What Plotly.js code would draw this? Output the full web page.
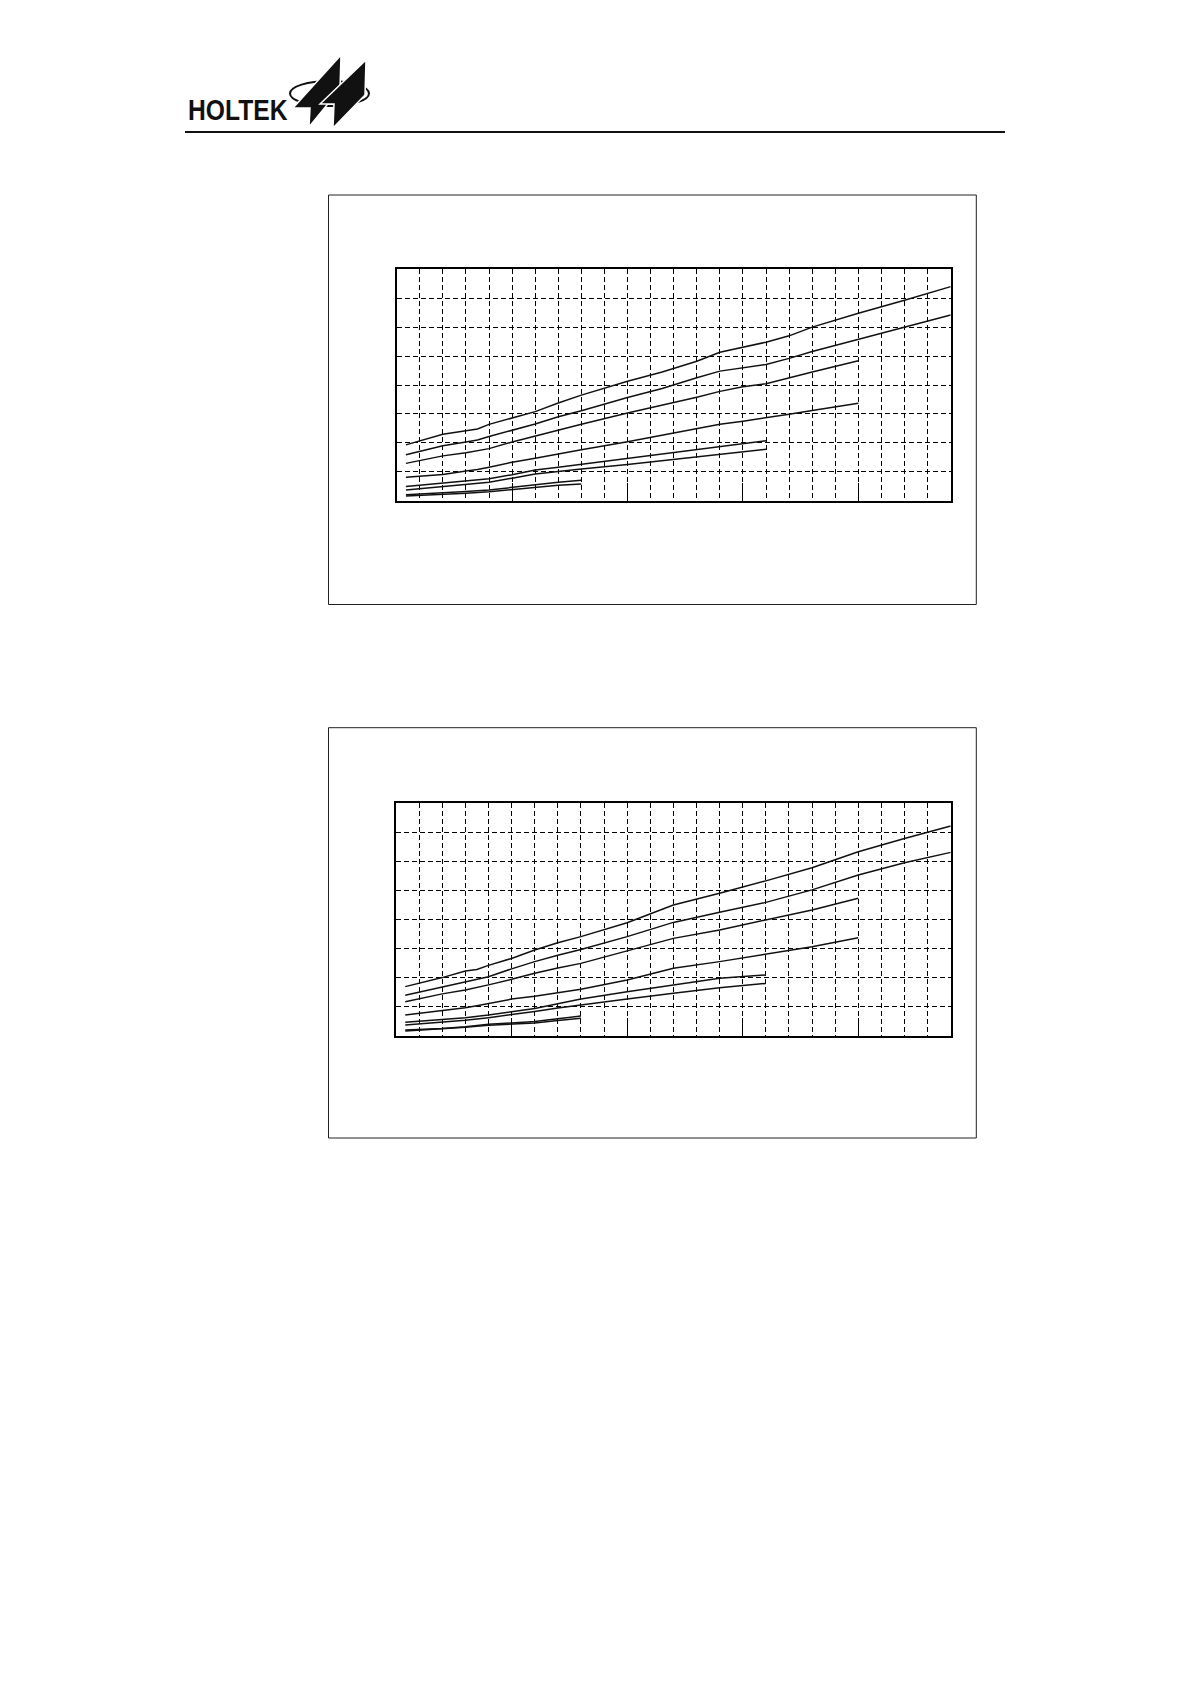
<!DOCTYPE html>
<html><head><meta charset="utf-8">
<script src="https://cdn.plot.ly/plotly-3.0.1.min.js"></script>
<style>
html,body{margin:0;padding:0;background:#fff}
#wrap{position:relative;width:1190px;height:1684px}
#page{width:1190px;height:1684px}
#brand{position:absolute;left:188px;top:96px;font-family:'Liberation Sans',Arial,sans-serif;font-weight:700;font-size:29px;line-height:29px;color:#111;transform:scaleX(0.85);transform-origin:left top;white-space:nowrap}
</style>
</head><body><div id="wrap"><div id="page"></div><div id="brand"></div></div>
<script>
// ---------- Chart 1 data (x and y in grid units) ----------
const xLong1 = [0.4, 2, 3, 3.5, 4, 5, 6, 7, 8, 10, 11.5, 13, 14, 16, 17, 18, 20, 22, 24];
const A1 = [1.93, 2.30, 2.42, 2.48, 2.64, 2.86, 3.08, 3.38, 3.65, 4.13, 4.45, 4.82, 5.13, 5.48, 5.70, 6.00, 6.48, 6.93, 7.40];
const B1 = [1.59, 1.90, 2.03, 2.10, 2.22, 2.44, 2.65, 2.90, 3.11, 3.57, 3.88, 4.25, 4.48, 4.71, 4.92, 5.16, 5.58, 6.00, 6.42];
const xMid1 = [0.4, 2, 3, 3.5, 4, 5, 6, 7, 8, 10, 11.5, 13, 14, 15, 16, 17, 18, 20];
const C1 = [1.29, 1.55, 1.66, 1.72, 1.80, 2.03, 2.24, 2.45, 2.64, 3.03, 3.30, 3.58, 3.78, 3.94, 4.04, 4.25, 4.45, 4.84];
const D1 = [0.81, 0.91, 1.03, 1.08, 1.16, 1.33, 1.47, 1.62, 1.76, 2.04, 2.27, 2.50, 2.64, 2.75, 2.86, 2.99, 3.12, 3.37];
const xShort1 = [0.4, 2, 3, 4, 5, 6, 7, 8, 10, 11.5, 13, 15, 16];
const E1 = [0.49, 0.60, 0.67, 0.76, 0.90, 1.06, 1.16, 1.26, 1.47, 1.62, 1.76, 1.98, 2.07];
const F1 = [0.37, 0.48, 0.55, 0.64, 0.78, 0.92, 1.01, 1.10, 1.25, 1.38, 1.50, 1.68, 1.78];
const xTiny1 = [0.4, 1, 2, 3, 4, 5, 6, 7, 8];
const G1 = [0.21, 0.23, 0.27, 0.32, 0.37, 0.46, 0.56, 0.64, 0.71];
const H1 = [0.16, 0.18, 0.21, 0.26, 0.31, 0.39, 0.47, 0.53, 0.58];

// ---------- Chart 2 data ----------
const xLong2 = [0.4, 2, 3, 3.5, 4, 5, 6, 7, 8, 10, 12, 14, 16, 18, 20, 22, 24];
const A2 = [1.69, 2.00, 2.23, 2.28, 2.42, 2.66, 2.95, 3.20, 3.41, 3.89, 4.50, 4.90, 5.33, 5.78, 6.33, 6.79, 7.22];
const B2 = [1.39, 1.67, 1.84, 1.92, 2.03, 2.30, 2.55, 2.77, 2.97, 3.41, 3.90, 4.25, 4.59, 5.02, 5.53, 5.95, 6.31];
const xMid2 = [0.4, 2, 3, 3.5, 4, 5, 6, 7, 8, 10, 12, 14, 16, 18, 20];
const C2 = [1.17, 1.44, 1.57, 1.65, 1.75, 1.94, 2.15, 2.33, 2.49, 2.92, 3.35, 3.64, 3.98, 4.33, 4.73];
const D2 = [0.71, 0.85, 0.96, 1.03, 1.11, 1.26, 1.36, 1.48, 1.60, 1.92, 2.32, 2.55, 2.80, 3.06, 3.37];
const xShort2 = [0.4, 2, 3, 4, 5, 6, 7, 8, 10, 12, 14, 16];
const E2 = [0.46, 0.55, 0.62, 0.71, 0.83, 0.94, 1.10, 1.26, 1.51, 1.75, 1.98, 2.09];
const F2 = [0.37, 0.46, 0.53, 0.62, 0.72, 0.83, 0.95, 1.06, 1.26, 1.46, 1.65, 1.80];
const xTiny2 = [0.4, 1, 2, 3, 4, 5, 6, 7, 8];
const G2 = [0.20, 0.22, 0.25, 0.31, 0.39, 0.44, 0.49, 0.58, 0.68];
const H2 = [0.16, 0.19, 0.23, 0.29, 0.36, 0.40, 0.44, 0.52, 0.60];

const headerText = 'HOLTEK';
document.getElementById('brand').textContent = headerText;

// ---------- layout helpers ----------
const W = 1190, H = 1684;
const fx = v => v / W, fy = v => 1 - v / H;
const curveLine = {color: '#111', width: 1.5};
function tr(x, y, xa, ya) {
  return {x: x, y: y, type: 'scatter', mode: 'lines', line: curveLine,
          xaxis: xa, yaxis: ya, hoverinfo: 'skip', showlegend: false};
}
const traces = [
  tr(xLong1, A1, 'x', 'y'), tr(xLong1, B1, 'x', 'y'),
  tr(xMid1, C1, 'x', 'y'), tr(xMid1, D1, 'x', 'y'),
  tr(xShort1, E1, 'x', 'y'), tr(xShort1, F1, 'x', 'y'),
  tr(xTiny1, G1, 'x', 'y'), tr(xTiny1, H1, 'x', 'y'),
  tr(xLong2, A2, 'x2', 'y2'), tr(xLong2, B2, 'x2', 'y2'),
  tr(xMid2, C2, 'x2', 'y2'), tr(xMid2, D2, 'x2', 'y2'),
  tr(xShort2, E2, 'x2', 'y2'), tr(xShort2, F2, 'x2', 'y2'),
  tr(xTiny2, G2, 'x2', 'y2'), tr(xTiny2, H2, 'x2', 'y2')
];
const dashPat = '5px,3px';
function xAxis(x0, x1, anchor) {
  return {domain: [fx(x0), fx(x1)], range: [0, 24], anchor: anchor,
    showticklabels: false, tickmode: 'linear', tick0: 0, dtick: 5,
    ticks: 'inside', ticklen: 18, tickwidth: 1, tickcolor: '#000',
    showgrid: true, gridcolor: '#000', gridwidth: 1, griddash: dashPat,
    minor: {tickmode: 'linear', tick0: 0, dtick: 1, showgrid: true, gridcolor: '#000', gridwidth: 1, griddash: dashPat, ticks: ''},
    showline: true, linecolor: '#000', linewidth: 2.2, mirror: true, zeroline: false};
}
function yAxis(y0, y1, anchor) {
  return {domain: [fy(y1), fy(y0)], range: [0, 8], anchor: anchor,
    showticklabels: false, tickmode: 'linear', tick0: 0, dtick: 1, ticks: '',
    showgrid: true, gridcolor: '#000', gridwidth: 1, griddash: dashPat,
    showline: true, linecolor: '#000', linewidth: 2.2, mirror: true, zeroline: false};
}
function rect(x0, y0, x1, y1, w, c) {
  return {type: 'rect', xref: 'paper', yref: 'paper', x0: fx(x0), x1: fx(x1), y0: fy(y0), y1: fy(y1),
          line: {color: c, width: w}, fillcolor: 'rgba(0,0,0,0)', layer: 'below'};
}
function poly(pts) {
  return 'M' + pts.map(p => fx(p[0]) + ',' + fy(p[1])).join('L') + 'Z';
}
const shapes = [
  rect(328.5, 195, 976.3, 604.5, 1, '#222'),
  rect(328.5, 727.7, 976.3, 1138, 1, '#222'),
  {type: 'line', xref: 'paper', yref: 'paper', x0: fx(185), x1: fx(1005), y0: fy(132), y1: fy(132), line: {color: '#111', width: 2}},
  {type: 'circle', xref: 'paper', yref: 'paper', x0: fx(290), x1: fx(369), y0: fy(81), y1: fy(106), line: {color: '#111', width: 2}, fillcolor: 'rgba(0,0,0,0)'},
  {type: 'path', xref: 'paper', yref: 'paper', path: poly([[293,108],[341,55],[340,89],[309,127],[310,108]]), fillcolor: '#111', line: {color: '#fff', width: 1.5}},
  {type: 'path', xref: 'paper', yref: 'paper', path: poly([[320,104],[366,60],[365,95],[333,128],[334,104]]), fillcolor: '#111', line: {color: '#fff', width: 1.5}}
];
const layout = {
  width: W, height: H, margin: {l: 0, r: 0, t: 0, b: 0},
  paper_bgcolor: '#fff', plot_bgcolor: 'rgba(0,0,0,0)', showlegend: false,
  xaxis: xAxis(396.7, 950.7, 'y'), yaxis: yAxis(269.3, 500.7, 'x'),
  xaxis2: xAxis(396, 950.7, 'y2'), yaxis2: yAxis(803.3, 1035.7, 'x2'),
  shapes: shapes
};
Plotly.newPlot('page', traces, layout, {staticPlot: true, displayModeBar: false});
</script></body></html>
